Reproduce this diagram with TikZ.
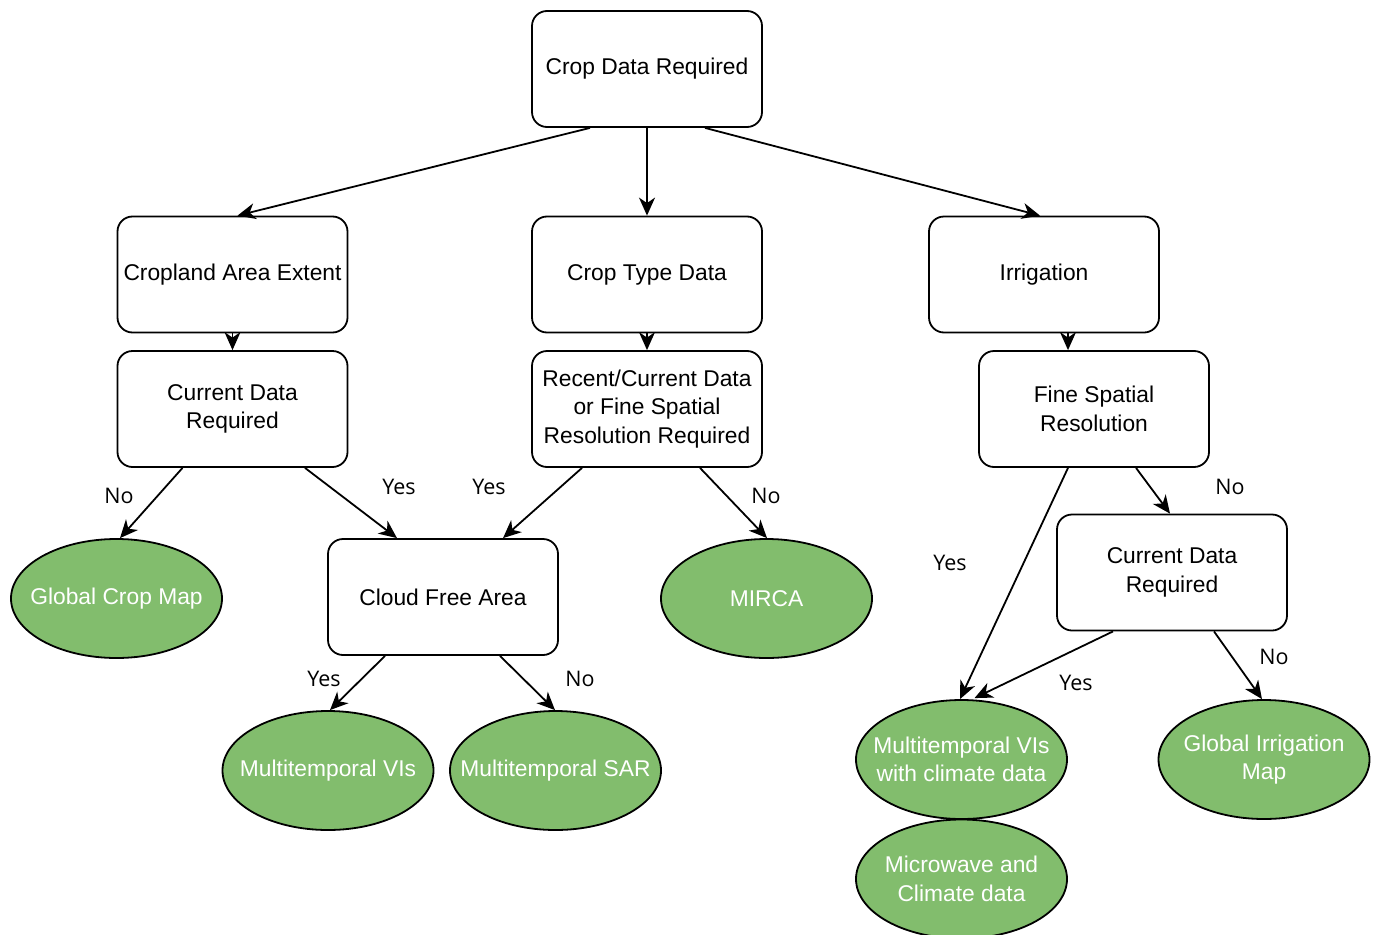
\documentclass[tikz,border=0pt]{standalone}
\usepackage{fontspec}
\setmainfont{Liberation Sans}
\newfontfamily\labelfont{Open Sans}
\usetikzlibrary{arrows.meta,shapes.geometric}
\definecolor{leaf}{RGB}{130,189,109}
\tikzset{
  box/.style={draw, line width=1.8pt, rounded corners=15pt, fill=white,
    minimum width=230pt, minimum height=116pt, inner sep=0pt, align=center,
    font=\fontsize{22.8}{28.5}\selectfont},
  result/.style={ellipse, draw, line width=1.8pt, fill=leaf, text=white,
    minimum width=211pt, minimum height=119pt, inner xsep=-30pt, inner ysep=0pt,
    align=center, font=\fontsize{22.8}{28.5}\selectfont},
  arr/.style={draw, line width=1.8pt, -{Stealth[length=18pt, width=16pt, inset=5.5pt]}},
  choice/.style={inner sep=0pt, font=\labelfont\fontsize{21.5}{26}\selectfont}
}
\begin{document}
\begin{tikzpicture}[x=1pt, y=-1pt]
\useasboundingbox (0,0) rectangle (1375,934);

% decision boxes
\node[box] (top)  at (647,69)    {Crop Data Required};
\node[box] (cae)  at (232.5,274.5) {Cropland Area Extent};
\node[box] (ctd)  at (647,274.5) {Crop Type Data};
\node[box] (irr)  at (1044,274.5) {Irrigation};
\node[box] (cdr1) at (232.5,409) {Current Data\\Required};
\node[box] (rec)  at (647,409)   {Recent/Current Data\\or Fine Spatial\\Resolution Required};
\node[box] (fsr)  at (1094,409)  {Fine Spatial\\Resolution};
\node[box] (cfa)  at (443,597) {Cloud Free Area};
\node[box] (cdr2) at (1172,572.5)  {Current Data\\Required};

% data sources
\node[result] (gcm)   at (116.5,598.5) {Global Crop Map};
\node[result] (mirca) at (766.5,598.5) {MIRCA};
\node[result] (mvi)   at (328,770.5)   {Multitemporal VIs};
\node[result] (msar)  at (555.5,770.5) {Multitemporal SAR};
\node[result] (mvic)  at (961.5,759.5) {Multitemporal VIs\\with climate data};
\node[result] (mcd)   at (961.5,879)   {Microwave and\\Climate data};
\node[result] (gim)   at (1264,759.5)  {Global Irrigation\\Map};

% connectors
\draw[arr] ([xshift=-57pt]top.south) -- ([xshift=5pt]cae.north);
\draw[arr] (top.south) -- (ctd.north);
\draw[arr] ([xshift=58pt]top.south) -- ([xshift=-4pt]irr.north);
\draw[arr] (cae.south) -- (cdr1.north);
\draw[arr] (ctd.south) -- (rec.north);
\draw[arr] ([xshift=24pt]irr.south) -- ([xshift=-26pt]fsr.north);
\draw[arr] ([xshift=-50pt]cdr1.south) -- ([xshift=3.5pt]gcm.north);
\draw[arr] ([xshift=72.5pt]cdr1.south) -- ([xshift=-46pt]cfa.north);
\draw[arr] ([xshift=-65pt]rec.south) -- ([xshift=60pt]cfa.north);
\draw[arr] ([xshift=53pt]rec.south) -- ([xshift=0.5pt]mirca.north);
\draw[arr] ([xshift=-26pt]fsr.south) -- ([xshift=-1.5pt]mvic.north);
\draw[arr] ([xshift=42pt]fsr.south) -- ([xshift=-2pt]cdr2.north);
\draw[arr] ([xshift=-59pt]cdr2.south) -- ([xshift=13pt,yshift=1pt]mvic.north);
\draw[arr] ([xshift=42pt]cdr2.south) -- ([xshift=-2pt]gim.north);
\draw[arr] ([xshift=-58pt]cfa.south) -- ([xshift=2pt]mvi.north);
\draw[arr] ([xshift=57pt]cfa.south) -- ([xshift=-0.5pt]msar.north);

% branch labels
\node[choice] (l1)  at (119,496)  {No};
\node[choice] (l2)  at (399,487)  {Yes};
\node[choice] (l3)  at (489,487)  {Yes};
\node[choice] (l4)  at (766,496)  {No};
\node[choice] (l5)  at (950,563)  {Yes};
\node[choice] (l6)  at (1230,487) {No};
\node[choice] (l7)  at (1076,683) {Yes};
\node[choice] (l8)  at (1274,657) {No};
\node[choice] (l9)  at (324,679)  {Yes};
\node[choice] (l10) at (580,679)  {No};
\end{tikzpicture}
\end{document}
